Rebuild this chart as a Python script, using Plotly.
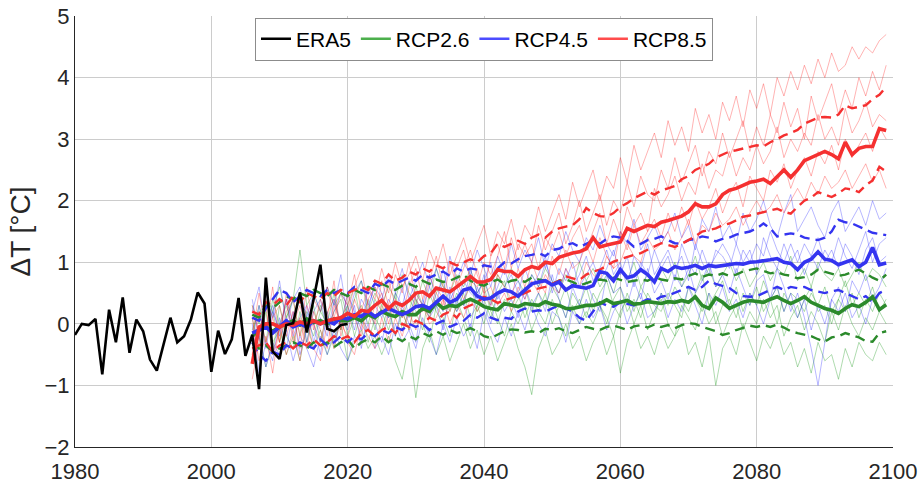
import plotly.graph_objects as go

# ---------------- data ----------------
era5_years = list(range(1980, 2021))
era5 = [-0.18, 0.0, -0.02, 0.08, -0.82, 0.23, -0.3, 0.43, -0.47, 0.07,
        -0.12, -0.58, -0.76, -0.33, 0.1, -0.3, -0.2, 0.07, 0.51, 0.33,
        -0.78, -0.11, -0.49, -0.25, 0.42, -0.52, -0.18, -1.06, 0.75, -0.45,
        -0.57, -0.02, 0.01, 0.51, -0.14, 0.4, 0.96, -0.08, -0.12, -0.02,
        0.0]

rcp_years = list(range(2006, 2100))

rcp85_mean = [-0.65, -0.05, 0.0, 0.0, -0.05, 0.0, -0.02, 0.03, 0.0, 0.05,
              0.0, 0.05, 0.08, 0.1, 0.17, 0.12, 0.22, 0.2, 0.3, 0.38,
              0.25, 0.35, 0.3, 0.38, 0.5, 0.52, 0.45, 0.58, 0.55, 0.52,
              0.6, 0.68, 0.77, 0.68, 0.68, 0.72, 0.88, 0.85, 0.85, 0.77,
              0.88, 0.93, 0.9, 1.0, 0.98, 1.08, 1.12, 1.15, 1.17, 1.22,
              1.4, 1.25, 1.28, 1.3, 1.33, 1.55, 1.5, 1.55, 1.6, 1.58,
              1.65, 1.68, 1.72, 1.75, 1.82, 1.95, 1.9, 1.9, 1.95, 2.1,
              2.17, 2.2, 2.25, 2.3, 2.32, 2.35, 2.28, 2.4, 2.5, 2.38,
              2.5, 2.65, 2.7, 2.75, 2.8, 2.75, 2.68, 2.95, 2.75, 2.85,
              2.88, 2.88, 3.17, 3.14]
rcp45_mean = [-0.15, -0.1, -0.05, -0.15, -0.05, 0.05, -0.05, 0.0, -0.05, 0.05,
              0.0, 0.05, 0.0, 0.1, 0.08, 0.15, 0.12, 0.2, 0.12, 0.18,
              0.25, 0.2, 0.15, 0.2, 0.28, 0.3, 0.25, 0.35, 0.45, 0.35,
              0.4, 0.55, 0.58, 0.45, 0.4, 0.42, 0.5, 0.55, 0.52, 0.45,
              0.55, 0.65, 0.68, 0.7, 0.63, 0.68, 0.55, 0.62, 0.6, 0.58,
              0.62, 0.85, 0.82, 0.7, 0.88, 0.75, 0.78, 0.88, 0.8, 0.68,
              0.9, 0.85, 0.93, 0.9, 0.92, 0.95, 0.9, 0.95, 0.93, 0.95,
              0.97, 0.98, 0.97, 1.0, 1.01, 1.02, 1.04, 1.06, 1.0, 0.98,
              0.88, 1.0, 1.05, 1.17, 1.05, 1.03, 0.96, 1.0, 1.04, 0.93,
              1.0, 1.24, 0.96, 0.99]
rcp26_mean = [-0.2, -0.1, -0.05, -0.12, -0.05, 0.0, 0.05, -0.02, 0.08, 0.02,
              0.05, 0.0, 0.08, 0.05, 0.05, 0.1, 0.05, 0.15, 0.1, 0.2,
              0.15, 0.12, 0.2, 0.15, 0.15, 0.25, 0.2, 0.35, 0.25, 0.3,
              0.28, 0.35, 0.4, 0.35, 0.28, 0.25, 0.23, 0.33, 0.3, 0.28,
              0.33, 0.32, 0.3, 0.36, 0.32, 0.3, 0.25, 0.25, 0.28, 0.3,
              0.3, 0.33, 0.39, 0.33, 0.35, 0.38, 0.32, 0.33, 0.36, 0.35,
              0.33, 0.36, 0.35, 0.38, 0.35, 0.44, 0.3, 0.25, 0.42, 0.35,
              0.25, 0.3, 0.35, 0.38, 0.36, 0.35, 0.4, 0.44, 0.38, 0.33,
              0.38, 0.44, 0.35, 0.3, 0.25, 0.22, 0.17, 0.25, 0.31, 0.28,
              0.35, 0.44, 0.23, 0.31]

rcp85_hi = [0.2, 0.15, 0.35, 0.3, 0.4, 0.3, 0.45, 0.35, 0.5, 0.45,
            0.4, 0.5, 0.45, 0.55, 0.5, 0.55, 0.6, 0.55, 0.7, 0.65,
            0.8, 0.7, 0.75, 0.85, 0.8, 0.9, 0.85, 0.95, 0.9, 1.0,
            0.95, 1.0, 1.05, 1.0, 1.1, 1.15, 1.3, 1.25, 1.3, 1.35,
            1.3, 1.4, 1.45, 1.4, 1.5, 1.55, 1.58, 1.6, 1.7, 1.88,
            1.8, 1.75, 1.74, 1.8, 1.9, 1.96, 2.04, 2.1, 2.15, 2.1,
            2.17, 2.2, 2.24, 2.35, 2.4, 2.5, 2.55, 2.6, 2.7, 2.75,
            2.8, 2.82, 2.85, 2.88, 2.9, 2.88, 2.95, 3.0, 3.06, 3.1,
            3.15, 3.25, 3.3, 3.35, 3.36, 3.35, 3.4, 3.55, 3.5, 3.52,
            3.55, 3.65, 3.72, 3.85]
rcp85_lo = [-0.4, -0.35, -0.3, -0.45, -0.35, -0.3, -0.4, -0.3, -0.35, -0.25,
            -0.35, -0.3, -0.2, -0.25, -0.2, -0.3, -0.15, -0.1, -0.2, -0.1,
            -0.05, -0.15, 0.0, -0.05, 0.05, 0.0, 0.1, 0.05, 0.15, 0.2,
            0.1, 0.25, 0.3, 0.35, 0.44, 0.4, 0.34, 0.38, 0.42, 0.45,
            0.5, 0.55, 0.58, 0.6, 0.65, 0.7, 0.77, 0.74, 0.71, 0.8,
            0.85, 0.88, 0.95, 1.01, 1.05, 1.09, 1.12, 1.15, 1.2, 1.25,
            1.31, 1.28, 1.25, 1.3, 1.36, 1.42, 1.5, 1.52, 1.55, 1.6,
            1.63, 1.68, 1.74, 1.76, 1.79, 1.82, 1.85, 1.87, 1.82, 1.79,
            1.9, 2.0, 2.05, 2.14, 2.1, 2.06, 2.12, 2.2, 2.18, 2.14,
            2.25, 2.33, 2.55, 2.47]
rcp45_hi = [0.1, 0.05, 0.25, 0.4, 0.55, 0.5, 0.35, 0.45, 0.55, 0.5,
            0.45, 0.55, 0.5, 0.55, 0.5, 0.6, 0.55, 0.5, 0.65, 0.6,
            0.7, 0.65, 0.7, 0.75, 0.7, 0.8, 0.75, 0.8, 0.85, 0.78,
            0.9, 0.85, 0.9, 0.88, 0.95, 0.93, 0.9, 1.0, 0.98, 1.05,
            1.1, 1.12, 1.15, 1.1, 1.2, 1.22, 1.28, 1.31, 1.25, 1.3,
            1.35, 1.3, 1.38, 1.42, 1.4, 1.35, 1.25, 1.3, 1.36, 1.38,
            1.42, 1.36, 1.31, 1.3, 1.36, 1.38, 1.42, 1.4, 1.34, 1.38,
            1.4, 1.45, 1.47, 1.5, 1.55, 1.63, 1.55, 1.42, 1.45, 1.47,
            1.45, 1.4, 1.38, 1.36, 1.4, 1.5, 1.69, 1.65, 1.63, 1.58,
            1.52, 1.48, 1.46, 1.44]
rcp45_lo = [-0.3, -0.5, -0.6, -0.45, -0.5, -0.35, -0.4, -0.3, -0.35, -0.4,
            -0.25, -0.35, -0.3, -0.2, -0.3, -0.2, -0.25, -0.15, -0.2, -0.1,
            -0.15, -0.05, -0.1, 0.0, -0.05, 0.0, -0.1, 0.0, 0.05, -0.05,
            0.0, 0.05, 0.15, 0.1, 0.17, 0.1, 0.06, 0.1, 0.08, 0.2,
            0.25, 0.2, 0.22, 0.2, 0.25, 0.3, 0.25, 0.2, 0.1, 0.05,
            0.2, 0.35, 0.3, 0.28, 0.35, 0.32, 0.3, 0.35, 0.4, 0.38,
            0.44, 0.46, 0.5, 0.55, 0.6, 0.55, 0.6, 0.7, 0.65, 0.62,
            0.58, 0.5, 0.45, 0.44, 0.45, 0.5, 0.55, 0.6, 0.55, 0.6,
            0.58, 0.6, 0.55, 0.52, 0.5, 0.53, 0.55, 0.5, 0.45, 0.4,
            0.45, 0.35, 0.5, 0.55]
rcp26_hi = [0.15, 0.1, 0.3, 0.25, 0.35, 0.45, 0.4, 0.5, 0.45, 0.55,
            0.5, 0.45, 0.55, 0.5, 0.45, 0.55, 0.5, 0.6, 0.55, 0.65,
            0.6, 0.55, 0.62, 0.65, 0.6, 0.7, 0.65, 0.72, 0.68, 0.7,
            0.75, 0.8, 0.7, 0.65, 0.62, 0.68, 0.72, 0.65, 0.7, 0.72,
            0.68, 0.75, 0.72, 0.7, 0.65, 0.7, 0.72, 0.68, 0.62, 0.66,
            0.7, 0.72, 0.7, 0.75, 0.72, 0.68, 0.7, 0.72, 0.7, 0.76,
            0.72, 0.7, 0.74, 0.72, 0.78, 0.82, 0.76, 0.8, 0.78, 0.82,
            0.78, 0.8, 0.85, 0.88, 0.9, 0.86, 0.82, 0.84, 0.8, 0.78,
            0.74, 0.76, 0.8, 0.88, 0.85, 0.82, 0.78, 0.8, 0.84, 0.88,
            0.82, 0.75, 0.7, 0.8]
rcp26_lo = [-0.3, -0.4, -0.35, -0.45, -0.4, -0.35, -0.3, -0.35, -0.4, -0.3,
            -0.35, -0.3, -0.38, -0.3, -0.25, -0.4, -0.3, -0.25, -0.3, -0.2,
            -0.3, -0.22, -0.28, -0.2, -0.25, -0.15, -0.2, -0.12, -0.18, -0.1,
            -0.15, -0.12, -0.07, -0.12, -0.2, -0.23, -0.18, -0.12, -0.09, -0.1,
            -0.14, -0.12, -0.15, -0.08, -0.1, -0.07, -0.12, -0.15, -0.1, -0.05,
            -0.08, -0.1, -0.05, -0.03, -0.06, -0.1, -0.04, -0.02, -0.06, -0.01,
            -0.05, -0.02, -0.07, -0.02, 0.01, 0.0, -0.05, -0.08, -0.12, -0.18,
            -0.15, -0.1, -0.06, -0.03, -0.05, -0.02, -0.05, -0.01, -0.06, -0.12,
            -0.15, -0.18, -0.2, -0.25, -0.29, -0.22, -0.2, -0.15, -0.18, -0.22,
            -0.28, -0.29, -0.15, -0.12]

# individual ensemble members (estimated)
rcp85_members = [
    [0.3, -0.2, 0.4, 0.1, -0.3, 0.5, 0.0, 0.3, -0.1, 0.4,
     0.2, 0.6, 0.1, 0.5, 0.3, 0.8, 0.2, 0.6, 0.4, 0.9,
     0.5, 1.0, 0.6, 0.8, 1.1, 0.7, 1.2, 0.9, 1.3, 0.8,
     1.1, 1.4, 1.0, 1.3, 1.6, 1.1, 1.5, 1.3, 1.7, 1.2,
     1.6, 1.4, 1.9, 1.5, 1.8, 2.1, 1.7, 2.3, 1.9, 2.2,
     2.5, 2.0, 2.4, 2.2, 2.7, 2.3, 2.9, 2.5, 2.8, 3.1,
     2.7, 3.3, 2.9, 3.2, 2.8, 3.5, 3.1, 3.4, 3.0, 3.6,
     3.3, 3.7, 3.2, 3.8, 3.5, 3.9, 3.4, 4.0, 3.7, 4.1,
     3.8, 4.2, 3.9, 4.3, 4.0, 4.4, 4.1, 4.2, 4.5, 4.3,
     4.5, 4.4, 4.6, 4.7],
    [-0.5, 0.2, -0.3, 0.1, 0.3, -0.2, 0.2, -0.4, 0.3, 0.0,
     -0.3, 0.2, 0.4, -0.1, 0.5, 0.1, -0.2, 0.4, 0.6, 0.2,
     0.7, 0.3, 0.1, 0.6, 0.9, 0.4, 0.8, 0.5, 0.3, 1.0,
     0.6, 0.9, 1.2, 0.8, 0.5, 1.1, 1.3, 0.9, 1.4, 1.0,
     1.3, 1.0, 1.6, 1.2, 1.5, 1.8, 1.3, 1.6, 2.0, 1.5,
     1.8, 2.1, 1.6, 2.0, 1.8, 2.3, 1.9, 2.4, 2.1, 2.0,
     2.5, 2.2, 2.7, 2.3, 2.6, 2.9, 2.4, 2.8, 2.6, 3.1,
     2.7, 3.0, 3.3, 2.8, 3.2, 2.9, 3.4, 3.1, 3.6, 3.2,
     3.5, 3.0, 3.7, 3.3, 3.6, 3.9, 3.4, 3.8, 3.5, 4.0,
     3.7, 4.1, 3.8, 4.2],
    [-0.9, -0.3, 0.3, -0.5, -0.1, 0.4, -0.3, 0.1, -0.4, 0.2,
     -0.1, -0.4, 0.3, 0.0, -0.2, 0.4, 0.1, -0.1, 0.3, 0.5,
     0.0, 0.4, 0.2, -0.1, 0.5, 0.3, 0.1, 0.6, 0.4, 0.2,
     0.7, 0.4, 0.6, 0.9, 0.5, 0.3, 0.8, 0.6, 0.4, 0.9,
     0.6, 1.0, 0.7, 0.5, 1.1, 0.8, 1.2, 0.9, 1.0, 1.3,
     1.0, 1.4, 1.1, 0.9, 1.5, 1.2, 1.6, 1.3, 1.5, 1.7,
     1.4, 1.8, 1.5, 1.9, 1.6, 2.0, 1.7, 1.9, 2.2, 1.8,
     2.1, 2.3, 1.9, 2.4, 2.2, 2.0, 2.5, 2.3, 2.6, 2.2,
     2.5, 2.7, 2.4, 2.8, 2.6, 2.9, 2.5, 3.0, 2.7, 2.9,
     3.1, 2.8, 3.2, 3.0],
    [0.1, -0.6, -0.2, -0.8, 0.0, -0.5, -0.1, -0.6, 0.1, -0.4,
     -0.6, 0.0, -0.4, 0.1, -0.3, -0.5, 0.0, -0.2, -0.4, 0.1,
     -0.3, 0.1, -0.2, 0.2, -0.1, 0.3, 0.0, 0.1, 0.4, 0.0,
     0.3, 0.1, 0.4, 0.2, 0.5, 0.6, 0.3, 0.5, 0.2, 0.6,
     0.4, 0.7, 0.5, 0.8, 0.6, 0.5, 0.9, 0.7, 0.6, 1.0,
     0.8, 0.7, 1.1, 0.9, 1.0, 1.3, 1.1, 1.0, 1.4, 1.2,
     1.3, 1.5, 1.2, 1.4, 1.7, 1.3, 1.6, 1.5, 1.8, 1.6,
     1.7, 1.9, 1.6, 1.8, 2.0, 1.8, 1.9, 2.1, 1.8, 2.0,
     2.2, 2.0, 2.3, 2.1, 2.4, 2.2, 2.3, 2.5, 2.2, 2.4,
     2.6, 2.3, 2.5, 2.2],
    [-0.2, 0.5, -0.1, 0.6, -0.3, 0.2, 0.4, -0.2, 0.6, -0.1,
     0.4, 0.1, 0.7, -0.2, 0.2, 0.6, 0.9, 0.3, 0.0, 0.7,
     0.3, 0.8, 0.5, 1.0, 0.4, 0.2, 0.7, 1.1, 0.6, 0.5,
     0.9, 1.2, 0.7, 0.6, 1.0, 0.8, 1.1, 1.5, 0.9, 1.3,
     1.1, 1.3, 0.9, 1.4, 1.2, 1.5, 1.1, 1.4, 1.6, 1.2,
     1.5, 1.8, 1.3, 1.7, 1.4, 1.9, 1.6, 1.8, 1.5, 2.2,
     1.9, 2.1, 2.4, 2.0, 2.3, 2.1, 2.6, 2.2, 2.5, 2.4,
     2.8, 2.4, 2.7, 2.5, 2.9, 2.6, 2.8, 3.2, 2.7, 3.0,
     2.8, 3.1, 2.9, 3.4, 3.0, 3.2, 2.9, 3.5, 3.1, 3.3,
     3.6, 3.2, 3.4, 3.3],
]
rcp45_members = [
    [0.4, -0.2, 0.5, 0.1, 0.7, 0.0, 0.4, 0.6, 0.1, 0.5,
     0.2, 0.6, 0.3, 0.8, 0.1, 0.5, 0.7, 0.3, 0.6, 0.4,
     0.8, 0.5, 0.9, 0.4, 0.7, 1.0, 0.6, 0.9, 0.5, 1.1,
     0.7, 1.0, 0.8, 1.2, 0.9, 0.6, 1.1, 0.8, 1.3, 0.9,
     1.2, 1.0, 1.4, 0.9, 1.3, 1.1, 1.5, 1.2, 1.0, 1.4,
     1.2, 1.6, 1.3, 1.1, 1.5, 1.3, 1.7, 1.2, 1.4, 1.6,
     1.3, 1.5, 1.8, 1.4, 1.6, 1.2, 1.7, 1.5, 1.9, 1.4,
     1.6, 1.3, 1.8, 1.5, 1.7, 2.0, 1.6, 1.4, 1.8, 2.1,
     1.5, 1.7, 1.9, 1.6, 1.4, 1.8, 2.0, 1.5, 1.7, 1.9,
     1.6, 2.0, 1.7, 1.8],
    [-0.3, 0.3, -0.4, 0.2, -0.1, 0.4, -0.2, 0.1, 0.3, -0.3,
     0.1, -0.2, 0.4, 0.0, 0.5, 0.2, -0.1, 0.6, 0.3, 0.1,
     0.4, 0.2, 0.6, 0.1, 0.5, 0.3, 0.8, 0.4, 0.2, 0.6,
     0.3, 0.7, 0.5, 0.4, 0.8, 0.3, 0.6, 0.9, 0.5, 0.7,
     0.4, 0.8, 0.6, 1.0, 0.7, 0.5, 0.9, 0.6, 0.8, 1.1,
     0.7, 0.9, 1.2, 0.8, 1.0, 0.6, 1.1, 0.9, 1.3, 0.8,
     1.0, 1.2, 0.9, 1.1, 0.7, 1.3, 1.0, 0.8, 1.2, 1.1,
     0.9, 1.3, 1.0, 1.2, 0.8, 1.4, 1.1, 0.9, 1.3, 1.0,
     1.2, 0.8, 1.1, 1.4, 1.0, 1.2, 0.9, 1.3, 1.1, 0.8,
     1.2, 1.4, 1.0, 1.1],
    [-0.6, -0.2, -0.7, -0.3, -0.5, -0.1, -0.6, -0.2, -0.4, -0.7,
     -0.2, -0.5, -0.1, -0.4, -0.6, -0.2, -0.3, 0.0, -0.4, -0.2,
     -0.5, 0.0, -0.3, -0.1, -0.4, 0.1, -0.2, -0.5, 0.0, -0.3,
     0.1, -0.2, 0.0, -0.4, 0.2, -0.1, -0.3, 0.1, -0.2, 0.2,
     -0.1, 0.3, 0.0, -0.2, 0.2, 0.1, -0.3, 0.2, 0.0, 0.4,
     0.1, 0.3, -0.1, 0.2, 0.4, 0.0, 0.3, 0.5, 0.1, 0.2,
     0.5, 0.1, 0.4, 0.2, 0.6, 0.3, 0.0, 0.5, 0.3, 0.6,
     0.2, 0.4, 0.1, 0.5, 0.3, 0.0, 0.4, 0.6, 0.2, 0.5,
     0.1, 0.4, -0.1, 0.3, 0.0, 0.4, 0.2, 0.5, 0.1, 0.3,
     0.0, 0.4, 0.2, 0.3],
    [0.0, -0.8, -0.3, -0.6, 0.1, -0.4, 0.2, -0.5, -0.1, 0.0,
     -0.5, 0.2, -0.3, 0.1, -0.1, 0.3, -0.4, 0.2, 0.0, -0.3,
     0.2, -0.2, 0.3, 0.0, -0.3, 0.4, 0.1, 0.3, -0.1, 0.5,
     0.2, 0.4, -0.1, 0.6, 0.3, 0.0, 0.5, 0.2, 0.4, 0.1,
     0.6, 0.3, 0.5, 0.2, 0.8, 0.4, 0.1, 0.6, 0.3, 0.7,
     0.4, 0.2, 0.8, 0.5, 0.6, 0.3, 0.7, 0.4, 0.9, 0.5,
     0.7, 0.4, 0.8, 0.6, 0.9, 0.5, 0.7, 1.0, 0.6, 0.8,
     0.5, 0.9, 0.6, 0.3, 0.7, 0.8, 0.4, 0.9, 0.6, 0.2,
     0.5, 0.1, -0.4, -1.0, -0.3, 0.4, 0.6, 0.2, 0.7, 0.5,
     0.8, 0.4, 0.6, 0.9],
    [0.2, 0.6, -0.1, 0.3, -0.2, 0.4, 0.0, 0.5, -0.3, 0.2,
     0.4, -0.1, 0.2, 0.5, 0.3, -0.1, 0.4, 0.2, 0.7, 0.5,
     0.1, 0.5, 0.3, 0.7, 0.4, 0.2, 0.6, 0.3, 0.9, 0.4,
     0.6, 0.3, 0.9, 0.5, 0.7, 1.0, 0.4, 0.6, 0.8, 0.5,
     0.9, 0.6, 0.8, 1.1, 0.5, 0.9, 0.7, 1.0, 0.6, 0.8,
     1.0, 0.7, 0.9, 1.2, 0.8, 1.1, 0.6, 1.0, 0.8, 1.2,
     0.9, 1.1, 0.7, 1.3, 1.0, 0.8, 1.2, 0.9, 1.1, 1.3,
     1.1, 0.8, 1.2, 1.0, 1.3, 1.1, 1.5, 1.2, 1.0, 1.3,
     1.0, 1.3, 1.1, 0.9, 1.2, 1.0, 1.4, 1.1, 0.9, 1.2,
     1.5, 1.0, 1.3, 1.4],
]
rcp26_members = [
    [0.3, 0.0, 0.5, 0.2, 0.6, 0.1, 0.4, 1.2, 0.3, 0.5,
     0.2, 0.6, 0.3, 0.5, 0.1, 0.4, 0.7, 0.2, 0.5, 0.3,
     0.6, 0.4, 0.8, 0.5, 0.3, 0.7, 0.4, 0.9, 0.6, 0.5,
     0.8, 0.6, 0.9, 0.5, 0.7, 0.4, 0.8, 0.6, 0.9, 0.7,
     0.5, 0.8, 0.6, 0.9, 0.7, 0.5, 0.8, 0.6, 1.0, 0.7,
     0.9, 0.6, 0.8, 0.5, 0.9, 0.7, 1.0, 0.6, 0.8, 0.7,
     0.9, 0.7, 1.0, 0.6, 0.8, 1.1, 0.7, 0.9, 0.6, 0.8,
     1.0, 0.7, 0.9, 0.6, 0.8, 1.0, 0.7, 0.9, 0.8, 1.1,
     0.7, 0.9, 0.6, 1.0, 0.8, 0.7, 0.9, 0.6, 0.8, 1.0,
     0.7, 0.9, 0.8, 0.6],
    [-0.2, 0.3, -0.1, 0.2, -0.3, 0.1, 0.4, -0.2, 0.2, 0.0,
     0.3, -0.1, 0.2, 0.4, -0.2, 0.1, 0.3, 0.0, 0.4, 0.2,
     -0.1, 0.3, 0.1, 0.4, 0.2, -0.1, 0.5, 0.2, 0.0, 0.4,
     0.2, 0.5, 0.1, 0.3, 0.6, 0.2, 0.0, 0.4, 0.3, 0.5,
     0.1, 0.4, 0.2, 0.5, 0.0, 0.3, 0.6, 0.2, 0.4, 0.1,
     0.5, 0.3, 0.0, 0.4, 0.6, 0.2, 0.4, 0.1, 0.5, 0.3,
     0.2, 0.5, 0.3, 0.1, 0.6, 0.4, 0.2, 0.5, 0.0, 0.3,
     0.4, 0.1, 0.5, 0.3, 0.6, 0.2, 0.4, 0.0, 0.5, 0.3,
     0.1, 0.4, 0.6, 0.2, 0.3, 0.0, 0.4, 0.2, 0.5, 0.1,
     0.4, 0.2, 0.5, 0.3],
    [-0.5, -0.2, -0.7, -0.3, -0.1, -0.5, -0.2, -0.6, 0.0, -0.4,
     -0.1, -0.5, -0.2, 0.0, -0.6, -0.3, -0.1, -0.4, -0.2, -0.5,
     -0.2, -0.6, -0.9, -0.3, -1.2, -0.4, -0.1, -0.5, -0.2, -0.6,
     -0.3, 0.0, -0.4, -0.1, -0.5, -0.2, -0.6, -0.3, 0.0, -0.4,
     -0.7, -1.15, -0.4, -0.1, -0.5, -0.3, 0.0, -0.4, -0.2, -0.6,
     -0.3, -0.1, -0.5, -0.2, -0.8, -0.3, 0.0, -0.4, -0.2, -0.5,
     -0.1, -0.4, -0.2, 0.0, -0.5, -0.3, -0.7, -0.2, -1.0, -0.4,
     -0.2, -0.5, 0.0, -0.3, -0.6, -0.2, -0.4, -0.1, -0.5, -0.3,
     -0.7, -0.4, -0.8, -0.3, -0.6, -0.5, -0.9, -0.4, -0.7, -0.3,
     -0.5, -0.6, -0.3, -0.5],
    [0.1, -0.4, 0.2, -0.5, 0.3, -0.2, -0.4, 0.2, -0.3, 0.3,
     -0.3, 0.2, -0.4, 0.1, 0.3, -0.2, 0.2, -0.3, 0.1, -0.1,
     0.3, -0.2, 0.2, -0.1, 0.4, 0.0, -0.3, 0.3, 0.1, -0.2,
     0.4, 0.1, -0.2, 0.3, 0.0, 0.4, 0.1, -0.2, 0.2, 0.0,
     0.3, -0.1, 0.2, 0.0, 0.4, 0.1, -0.2, 0.3, 0.0, 0.2,
     0.0, 0.3, 0.1, -0.2, 0.2, 0.4, 0.0, 0.3, -0.1, 0.2,
     0.4, 0.0, -0.2, 0.3, 0.1, -0.1, 0.3, 0.0, 0.2, -0.2,
     0.1, 0.3, -0.1, 0.2, 0.0, 0.4, 0.1, 0.3, -0.2, 0.1,
     0.3, -0.1, 0.2, 0.0, -0.3, 0.2, -0.1, 0.3, 0.0, -0.2,
     0.1, -0.1, 0.2, 0.0],
    [-0.1, 0.2, -0.3, 0.4, 0.0, 0.3, -0.1, 0.5, 0.1, -0.2,
     0.2, 0.0, 0.5, -0.1, 0.3, 0.6, 0.0, 0.4, -0.1, 0.3,
     0.1, 0.5, -0.1, 0.2, 0.6, 0.3, 0.1, 0.5, 0.7, 0.2,
     0.5, 0.3, 0.7, 0.2, 0.4, 0.1, 0.5, 0.7, 0.2, 0.4,
     0.6, 0.2, 0.5, 0.3, 0.6, 0.4, 0.1, 0.5, 0.3, 0.6,
     0.2, 0.5, 0.7, 0.3, 0.1, 0.5, 0.2, 0.6, 0.4, 0.1,
     0.5, 0.3, 0.6, 0.4, 0.2, 0.5, 0.8, 0.3, 0.5, 0.7,
     0.3, 0.6, 0.2, 0.5, 0.3, 0.7, 0.4, 0.6, 0.2, 0.5,
     0.4, 0.2, 0.5, 0.3, 0.6, 0.2, 0.4, 0.7, 0.3, 0.5,
     0.3, 0.6, 0.2, 0.4],
]

legend_names = ["ERA5", "RCP2.6", "RCP4.5", "RCP8.5"]

# ---------------- styling ----------------
FONT = "Liberation Sans, Arial, Helvetica, sans-serif"
TXT = "#262626"
thin_col = {"26": "rgba(20,150,20,0.34)", "45": "rgba(30,30,255,0.32)", "85": "rgba(255,20,20,0.32)"}
main_col = {"26": "#2b8a2b", "45": "#3434f0", "85": "#f53030"}
leg_col = ["#000000", "#4caf4c", "#4c4cff", "#ff4c4c"]

fig = go.Figure()

scen = [("26", rcp26_members, rcp26_lo, rcp26_hi, rcp26_mean),
        ("45", rcp45_members, rcp45_lo, rcp45_hi, rcp45_mean),
        ("85", rcp85_members, rcp85_lo, rcp85_hi, rcp85_mean)]

for key, members, lo, hi, mean in scen:
    for m in members:
        fig.add_trace(go.Scatter(x=rcp_years, y=m, mode="lines",
                                 line=dict(color=thin_col[key], width=1.0),
                                 showlegend=False, hoverinfo="skip"))
for key, members, lo, hi, mean in scen:
    for band in (lo, hi):
        fig.add_trace(go.Scatter(x=rcp_years, y=band, mode="lines",
                                 line=dict(color=main_col[key], width=2.4, dash="10px,6px"),
                                 showlegend=False))
for key, members, lo, hi, mean in scen:
    fig.add_trace(go.Scatter(x=rcp_years, y=mean, mode="lines",
                             line=dict(color=main_col[key], width=3.6),
                             showlegend=False))

fig.add_trace(go.Scatter(x=era5_years, y=era5, mode="lines",
                         line=dict(color="#000000", width=2.6), showlegend=False))

# legend entries
for name, col in zip(legend_names, leg_col):
    fig.add_trace(go.Scatter(x=[None], y=[None], mode="lines", name=name,
                             line=dict(color=col, width=2.5)))

fig.update_layout(
    width=924, height=483,
    margin=dict(l=75, r=31, t=16, b=36, autoexpand=False),
    paper_bgcolor="white", plot_bgcolor="white",
    font=dict(family=FONT, color=TXT, size=22),
    showlegend=True,
    legend=dict(orientation="h", x=0.5, xanchor="center", y=0.996, yanchor="top",
                bgcolor="white", bordercolor="#8c8c8c", borderwidth=1,
                font=dict(family=FONT, size=21, color="#000000"),
                itemwidth=30, tracegroupgap=0),
)
fig.update_xaxes(range=[1980, 2100], tick0=1980, dtick=20, showgrid=True,
                 gridcolor="#cccccc", gridwidth=1, zeroline=False, automargin=False,
                 showline=True, linecolor="#262626", linewidth=1, mirror=False,
                 ticks="", tickfont=dict(size=22, color=TXT), ticklabelstandoff=5)
fig.update_yaxes(range=[-2, 5], tick0=-2, dtick=1, showgrid=True,
                 gridcolor="#cccccc", gridwidth=1, zeroline=False, automargin=False,
                 showline=True, linecolor="#262626", linewidth=1, mirror=False,
                 ticks="", tickfont=dict(size=22, color=TXT), ticklabelstandoff=0,
                 title=dict(text="ΔT [°C]", font=dict(size=28, color=TXT), standoff=5))

fig.write_html("out.html")
